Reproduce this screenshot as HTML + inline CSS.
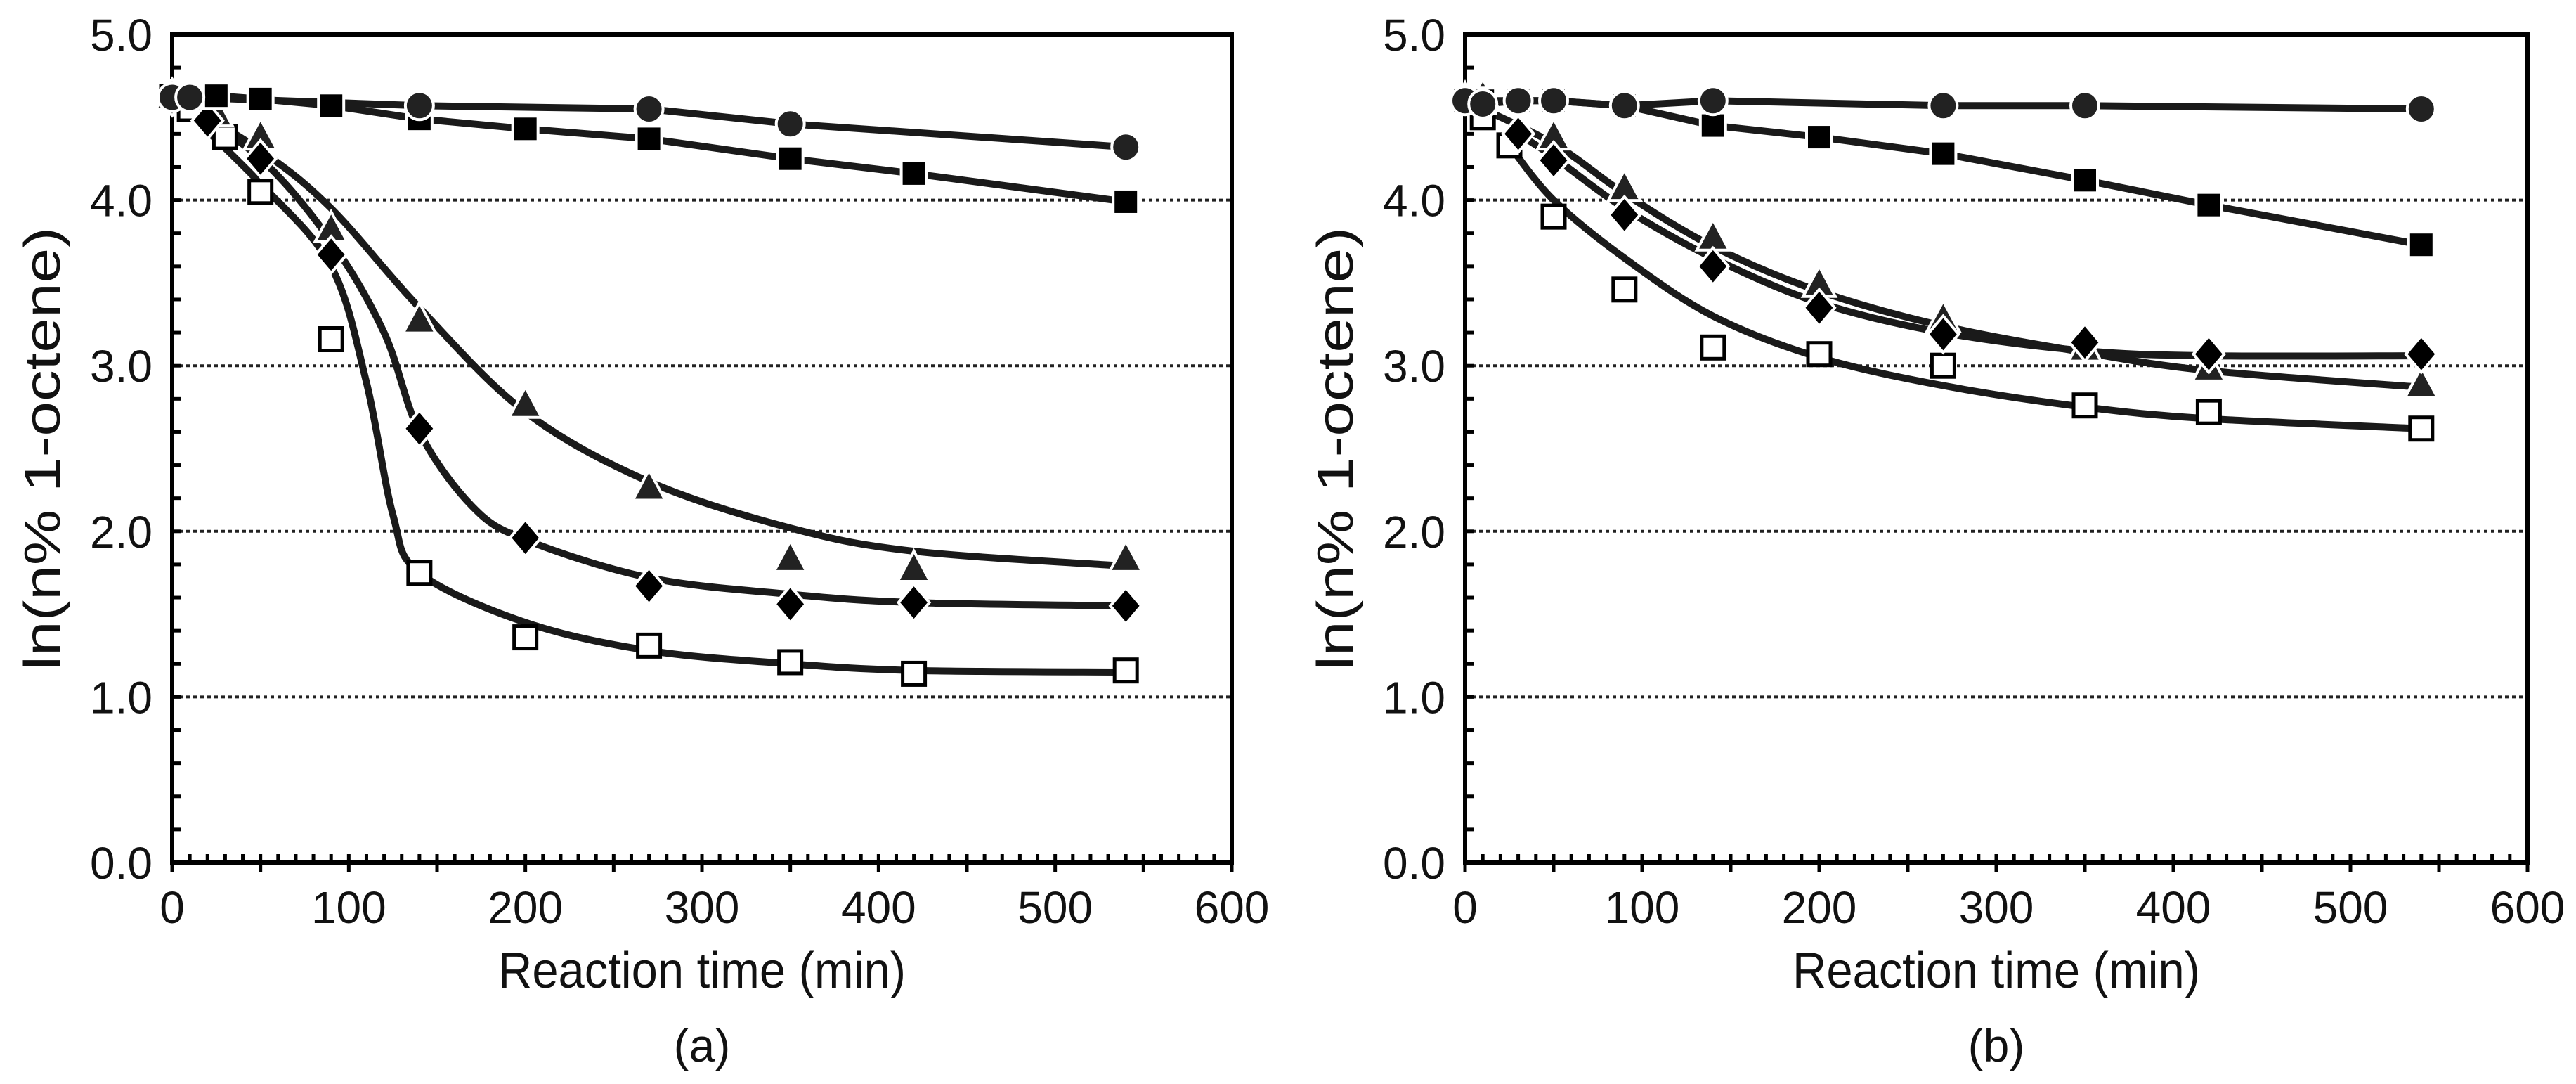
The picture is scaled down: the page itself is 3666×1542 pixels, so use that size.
<!DOCTYPE html>
<html><head><meta charset="utf-8"><style>
html,body{margin:0;padding:0;background:#fff}
svg{display:block}
text{font-family:"Liberation Sans",Arial,sans-serif;fill:#111}
</style></head><body>
<svg id="chart" xmlns="http://www.w3.org/2000/svg" width="3666" height="1542" viewBox="0 0 3666 1542"></svg>
<script>
// ---- data ----
const xTicks=[0,100,200,300,400,500,600];
const yTicks=[0.0,1.0,2.0,3.0,4.0,5.0];
const yTickLabels=["0.0","1.0","2.0","3.0","4.0","5.0"];
// panel (a)
const aCircleX=[0,10,140,270,350,540];
const aCircleY=[4.62,4.62,4.57,4.55,4.46,4.32];
const aSqX=[25,50,90,140,200,270,350,420,540];
const aSqY=[4.63,4.61,4.57,4.49,4.43,4.37,4.25,4.16,3.99];
const aTriX=[0,25,50,90,140,200,270,350,420,540];
const aTriY=[4.62,4.52,4.38,3.82,3.27,2.76,2.26,1.83,1.77,1.83];
const aDiaX=[0,20,50,90,140,200,270,350,420,540];
const aDiaY=[4.62,4.48,4.25,3.67,2.62,1.96,1.67,1.56,1.57,1.55];
const aOpenX=[0,10,30,50,90,140,200,270,350,420,540];
const aOpenY=[4.62,4.55,4.38,4.05,3.16,1.75,1.36,1.31,1.21,1.14,1.16];
// fitted curves (a)
const aTriFitX=[0,50,90,140,200,270,350,420,540];
const aTriFitY=[4.62,4.3,3.95,3.35,2.72,2.3,2.02,1.88,1.79];
const aDiaFitX=[0,50,90,120,140,170,200,270,350,420,540];
const aDiaFitY=[4.62,4.25,3.75,3.2,2.6,2.15,1.95,1.72,1.62,1.57,1.55];
const aOpenFitX=[0,50,90,110,125,140,200,270,350,420,540];
const aOpenFitY=[4.62,4.1,3.6,2.9,2.1,1.75,1.45,1.28,1.2,1.16,1.15];
// panel (b)
const bCircleX=[0,10,30,50,90,140,270,350,540];
const bCircleY=[4.6,4.58,4.6,4.6,4.57,4.6,4.57,4.57,4.55];
const bSqX=[0,10,30,50,90,140,200,270,350,420,540];
const bSqY=[4.6,4.6,4.6,4.6,4.57,4.45,4.38,4.28,4.12,3.97,3.73];
const bTriX=[0,10,50,90,140,200,270,350,420,540];
const bTriY=[4.6,4.62,4.38,4.07,3.77,3.49,3.28,3.1,2.98,2.88];
const bDiaX=[30,50,90,140,200,270,350,420,540];
const bDiaY=[4.4,4.24,3.91,3.6,3.35,3.19,3.14,3.07,3.07];
const bOpenX=[0,10,25,50,90,140,200,270,350,420,540];
const bOpenY=[4.6,4.5,4.33,3.9,3.46,3.11,3.07,3.0,2.76,2.72,2.62];
const bTriFitX=[0,50,90,140,200,270,350,420,540];
const bTriFitY=[4.6,4.34,4.04,3.72,3.45,3.24,3.08,2.97,2.87];
const bDiaFitX=[30,50,90,140,200,270,350,420,540];
const bDiaFitY=[4.4,4.26,3.95,3.65,3.38,3.2,3.09,3.06,3.06];
const bOpenFitX=[25,50,90,140,200,270,350,420,540];
const bOpenFitY=[4.33,4.0,3.65,3.3,3.05,2.88,2.75,2.68,2.62];

const NS="http://www.w3.org/2000/svg";
const svg=document.getElementById('chart');
function el(tag,attrs,parent){const e=document.createElementNS(NS,tag);for(const k in attrs)e.setAttribute(k,attrs[k]);(parent||svg).appendChild(e);return e;}

function panel(cfg){
  const L=cfg.x0,R=cfg.x1,T=49,B=1227;
  const sx=v=>L+(v/600)*(R-L);
  const sy=v=>B-(v/5)*(B-T);
  const g=el('g',{});
  
  
  [1,2,3,4].forEach(v=>{
    const l=el('line',{x1:L,x2:R,y1:sy(v),y2:sy(v),stroke:'#222','stroke-width':4,'stroke-dasharray':'5 5'},g);
    
    
  });
  const f=el('rect',{x:L,y:T,width:R-L,height:B-T,fill:'none',stroke:'#000','stroke-width':6},g);
  
  
  for(let i=0;i<=25;i++){const v=i*0.2;el('line',{x1:L,x2:L+12,y1:sy(v),y2:sy(v),stroke:'#000','stroke-width':5},g);}
  for(let m=0;m<=600;m+=10){
    const major=m%50===0;
    el('line',{x1:sx(m),x2:sx(m),y1:B-12,y2:major?B+14:B,stroke:'#000','stroke-width':5},g);
  }
  yTicks.forEach((v,i)=>{
    const t=el('text',{x:L-28,y:sy(v)+23,'font-size':64,'text-anchor':'end'},g);
    t.textContent=yTickLabels[i];
    
    
  });
  xTicks.forEach(v=>{
    const t=el('text',{x:sx(v),y:1313,'font-size':64,'text-anchor':'middle'},g);
    t.textContent=String(v);
    
    
  });
  const xt=el('text',{x:(L+R)/2,y:1405,'font-size':72,'text-anchor':'middle',textLength:580,lengthAdjust:'spacingAndGlyphs'},g);
  xt.textContent='Reaction time (min)';
  
  
  const yt=el('text',{x:0,y:0,'font-size':72,'text-anchor':'middle',transform:`translate(${L-160},${(T+B)/2}) rotate(-90)`,textLength:630,lengthAdjust:'spacingAndGlyphs'},g);
  yt.textContent='ln(n% 1-octene)';
  
  
  const cap=el('text',{x:(L+R)/2,y:1510,'font-size':66,'text-anchor':'middle'},g);
  cap.textContent=cfg.label;
  
  

  function poly(xs,ys){return xs.map((x,i)=>[sx(x),sy(ys[i])]);}
  function straight(xs,ys,name){
    const p=el('path',{d:'M'+poly(xs,ys).map(q=>q.join(',')).join('L'),fill:'none',stroke:'#1a1a1a','stroke-width':10,'stroke-linejoin':'round'},g);
    
    
  }
  function smooth(xs,ys,name){
    const P=poly(xs,ys);let d='M'+P[0].join(',');
    for(let i=0;i<P.length-1;i++){
      const p0=P[Math.max(0,i-1)],p1=P[i],p2=P[i+1],p3=P[Math.min(P.length-1,i+2)];
      const c1=[p1[0]+(p2[0]-p0[0])/6,p1[1]+(p2[1]-p0[1])/6];
      const c2=[p2[0]-(p3[0]-p1[0])/6,p2[1]-(p3[1]-p1[1])/6];
      d+=`C${c1.join(',')} ${c2.join(',')} ${p2.join(',')}`;
    }
    const p=el('path',{d,fill:'none',stroke:'#1a1a1a','stroke-width':10},g);
    
    
  }
  function markers(xs,ys,shape,name){
    xs.forEach((x,i)=>{
      const cx=sx(x),cy=sy(ys[i]);let m;
      const st={stroke:'#fff','stroke-width':4};
      if(shape==='circle')m=el('circle',Object.assign({cx,cy,r:20,fill:'#222'},st),g);
      else if(shape==='square')m=el('rect',Object.assign({x:cx-18,y:cy-18,width:36,height:36,fill:'#000'},st),g);
      else if(shape==='open')m=el('rect',{x:cx-16,y:cy-16,width:32,height:32,fill:'#fff',stroke:'#000','stroke-width':5},g);
      else if(shape==='tri')m=el('polygon',Object.assign({points:`${cx},${cy-26} ${cx+23},${cy+17} ${cx-23},${cy+17}`,fill:'#222'},st),g);
      else m=el('polygon',Object.assign({points:`${cx},${cy-26} ${cx+22},${cy} ${cx},${cy+26} ${cx-22},${cy}`,fill:'#000'},st),g);
      
      
    });
  }
  const d=cfg.d;
  straight(d.cx,d.cy,'circle-series-line');
  straight(d.sx,d.sy,'square-series-line');
  smooth(d.tfx,d.tfy,'triangle-fit-curve');
  smooth(d.dfx,d.dfy,'diamond-fit-curve');
  smooth(d.ofx,d.ofy,'open-square-fit-curve');
  markers(d.ox,d.oy,'open','open-square-point');
  markers(d.tx,d.ty,'tri','triangle-point');
  markers(d.dx,d.dy,'dia','diamond-point');
  markers(d.sx,d.sy,'square','square-point');
  markers(d.cx,d.cy,'circle','circle-point');
}
panel({name:'panel-a',label:'(a)',x0:245,x1:1753,d:{cx:aCircleX,cy:aCircleY,sx:aSqX,sy:aSqY,tx:aTriX,ty:aTriY,dx:aDiaX,dy:aDiaY,ox:aOpenX,oy:aOpenY,tfx:aTriFitX,tfy:aTriFitY,dfx:aDiaFitX,dfy:aDiaFitY,ofx:aOpenFitX,ofy:aOpenFitY}});
panel({name:'panel-b',label:'(b)',x0:2085,x1:3597,d:{cx:bCircleX,cy:bCircleY,sx:bSqX,sy:bSqY,tx:bTriX,ty:bTriY,dx:bDiaX,dy:bDiaY,ox:bOpenX,oy:bOpenY,tfx:bTriFitX,tfy:bTriFitY,dfx:bDiaFitX,dfy:bDiaFitY,ofx:bOpenFitX,ofy:bOpenFitY}});
</script>
</body></html>
